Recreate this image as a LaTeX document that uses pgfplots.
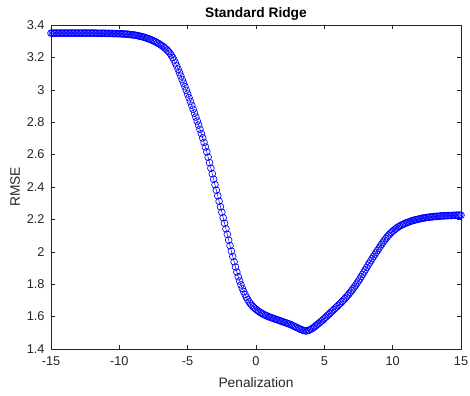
\documentclass[border=0pt]{standalone}
\usepackage{pgfplots}
\pgfplotsset{compat=1.18}
\usepackage{fontspec}
\setmainfont{Liberation Sans}
\definecolor{axgray}{rgb}{0.15,0.15,0.15}
\begin{document}
\begin{tikzpicture}
\path[use as bounding box] (-51bp,-47bp) rectangle (419bp,349bp);
\begin{axis}[
  scale only axis,
  width=410bp, height=324bp,
  xmin=-15, xmax=15, ymin=1.4, ymax=3.4,
  xtick={-15,-10,...,15},
  ytick={1.4,1.6,...,3.41},
  clip=false,
  axis line style={axgray, line width=0.5pt},
  tick style={axgray, line width=0.5pt},
  tick align=inside,
  major tick length=4bp,
  xtick pos=both, ytick pos=both,
  xticklabel pos=lower, yticklabel pos=left,
  /pgf/number format/assume math mode=true,
  ticklabel style={font=\fontsize{12.8}{14}\selectfont, text=axgray},
  xticklabel style={yshift=-4bp},
  yticklabel style={xshift=-3bp},
  label style={font=\fontsize{13.8}{16}\selectfont, text=axgray},
  xlabel style={yshift=-5bp},
  ylabel style={yshift=0bp},
  title style={font=\fontsize{13.8}{16}\selectfont\bfseries, text=black, yshift=-5bp},
  title={Standard Ridge},
  xlabel={Penalization},
  ylabel={RMSE},
]
\addplot[blue, line width=0.5pt, mark=o, mark size=3.4bp, mark options={line width=0.65pt}] table {
x y
-15.0 3.350
-14.9 3.350
-14.8 3.350
-14.7 3.350
-14.6 3.350
-14.5 3.350
-14.4 3.350
-14.3 3.350
-14.2 3.350
-14.1 3.350
-14.0 3.350
-13.9 3.350
-13.8 3.350
-13.7 3.350
-13.6 3.350
-13.5 3.350
-13.4 3.350
-13.3 3.350
-13.2 3.350
-13.1 3.350
-13.0 3.350
-12.9 3.350
-12.8 3.350
-12.7 3.350
-12.6 3.350
-12.5 3.350
-12.4 3.350
-12.3 3.350
-12.2 3.350
-12.1 3.350
-12.0 3.350
-11.9 3.350
-11.8 3.350
-11.7 3.350
-11.6 3.349
-11.5 3.349
-11.4 3.349
-11.3 3.349
-11.2 3.349
-11.1 3.349
-11.0 3.349
-10.9 3.348
-10.8 3.348
-10.7 3.348
-10.6 3.348
-10.5 3.348
-10.4 3.347
-10.3 3.347
-10.2 3.347
-10.1 3.347
-10.0 3.346
-9.9 3.346
-9.8 3.345
-9.7 3.345
-9.6 3.344
-9.5 3.344
-9.4 3.343
-9.3 3.342
-9.2 3.341
-9.1 3.340
-9.0 3.339
-8.9 3.338
-8.8 3.337
-8.7 3.335
-8.6 3.333
-8.5 3.331
-8.4 3.329
-8.3 3.327
-8.2 3.325
-8.1 3.322
-8.0 3.319
-7.9 3.316
-7.8 3.313
-7.7 3.310
-7.6 3.306
-7.5 3.302
-7.4 3.298
-7.3 3.294
-7.2 3.289
-7.1 3.284
-7.0 3.279
-6.9 3.273
-6.8 3.267
-6.7 3.260
-6.6 3.253
-6.5 3.245
-6.4 3.236
-6.3 3.226
-6.2 3.214
-6.1 3.200
-6.0 3.184
-5.9 3.166
-5.8 3.147
-5.7 3.127
-5.6 3.106
-5.5 3.085
-5.4 3.063
-5.3 3.041
-5.2 3.019
-5.1 2.997
-5.0 2.974
-4.9 2.951
-4.8 2.928
-4.7 2.904
-4.6 2.880
-4.5 2.856
-4.4 2.832
-4.3 2.807
-4.2 2.782
-4.1 2.756
-4.0 2.730
-3.9 2.703
-3.8 2.675
-3.7 2.647
-3.6 2.617
-3.5 2.584
-3.4 2.550
-3.3 2.516
-3.2 2.482
-3.1 2.448
-3.0 2.414
-2.9 2.380
-2.8 2.346
-2.7 2.312
-2.6 2.278
-2.5 2.244
-2.4 2.210
-2.3 2.176
-2.2 2.142
-2.1 2.108
-2.0 2.072
-1.9 2.038
-1.8 2.004
-1.7 1.971
-1.6 1.938
-1.5 1.906
-1.4 1.875
-1.3 1.846
-1.2 1.820
-1.1 1.796
-1.0 1.774
-0.9 1.754
-0.8 1.736
-0.7 1.719
-0.6 1.704
-0.5 1.691
-0.4 1.679
-0.3 1.669
-0.2 1.660
-0.1 1.652
0.0 1.645
0.1 1.638
0.2 1.632
0.3 1.626
0.4 1.621
0.5 1.616
0.6 1.612
0.7 1.608
0.8 1.604
0.9 1.600
1.0 1.597
1.1 1.594
1.2 1.591
1.3 1.588
1.4 1.585
1.5 1.582
1.6 1.579
1.7 1.576
1.8 1.573
1.9 1.570
2.0 1.567
2.1 1.564
2.2 1.561
2.3 1.558
2.4 1.555
2.5 1.552
2.6 1.548
2.7 1.544
2.8 1.540
2.9 1.536
3.0 1.532
3.1 1.528
3.2 1.524
3.3 1.520
3.4 1.517
3.5 1.514
3.6 1.512
3.7 1.512
3.8 1.514
3.9 1.517
4.0 1.521
4.1 1.526
4.2 1.532
4.3 1.538
4.4 1.545
4.5 1.552
4.6 1.559
4.7 1.566
4.8 1.573
4.9 1.580
5.0 1.588
5.1 1.596
5.2 1.604
5.3 1.612
5.4 1.620
5.5 1.628
5.6 1.636
5.7 1.644
5.8 1.652
5.9 1.660
6.0 1.668
6.1 1.676
6.2 1.684
6.3 1.693
6.4 1.702
6.5 1.711
6.6 1.720
6.7 1.730
6.8 1.740
6.9 1.750
7.0 1.761
7.1 1.772
7.2 1.783
7.3 1.795
7.4 1.807
7.5 1.820
7.6 1.833
7.7 1.847
7.8 1.861
7.9 1.875
8.0 1.889
8.1 1.903
8.2 1.917
8.3 1.931
8.4 1.945
8.5 1.958
8.6 1.971
8.7 1.984
8.8 1.997
8.9 2.009
9.0 2.022
9.1 2.035
9.2 2.047
9.3 2.059
9.4 2.071
9.5 2.082
9.6 2.092
9.7 2.102
9.8 2.111
9.9 2.119
10.0 2.127
10.1 2.134
10.2 2.141
10.3 2.147
10.4 2.153
10.5 2.158
10.6 2.163
10.7 2.167
10.8 2.171
10.9 2.175
11.0 2.179
11.1 2.182
11.2 2.185
11.3 2.188
11.4 2.191
11.5 2.194
11.6 2.196
11.7 2.198
11.8 2.200
11.9 2.202
12.0 2.204
12.1 2.206
12.2 2.208
12.3 2.209
12.4 2.210
12.5 2.212
12.6 2.213
12.7 2.214
12.8 2.215
12.9 2.216
13.0 2.217
13.1 2.218
13.2 2.219
13.3 2.219
13.4 2.220
13.5 2.221
13.6 2.221
13.7 2.222
13.8 2.222
13.9 2.223
14.0 2.223
14.1 2.224
14.2 2.224
14.3 2.224
14.4 2.225
14.5 2.225
14.6 2.225
14.7 2.226
14.8 2.226
14.9 2.226
15.0 2.226
};
\end{axis}
\end{tikzpicture}
\end{document}
